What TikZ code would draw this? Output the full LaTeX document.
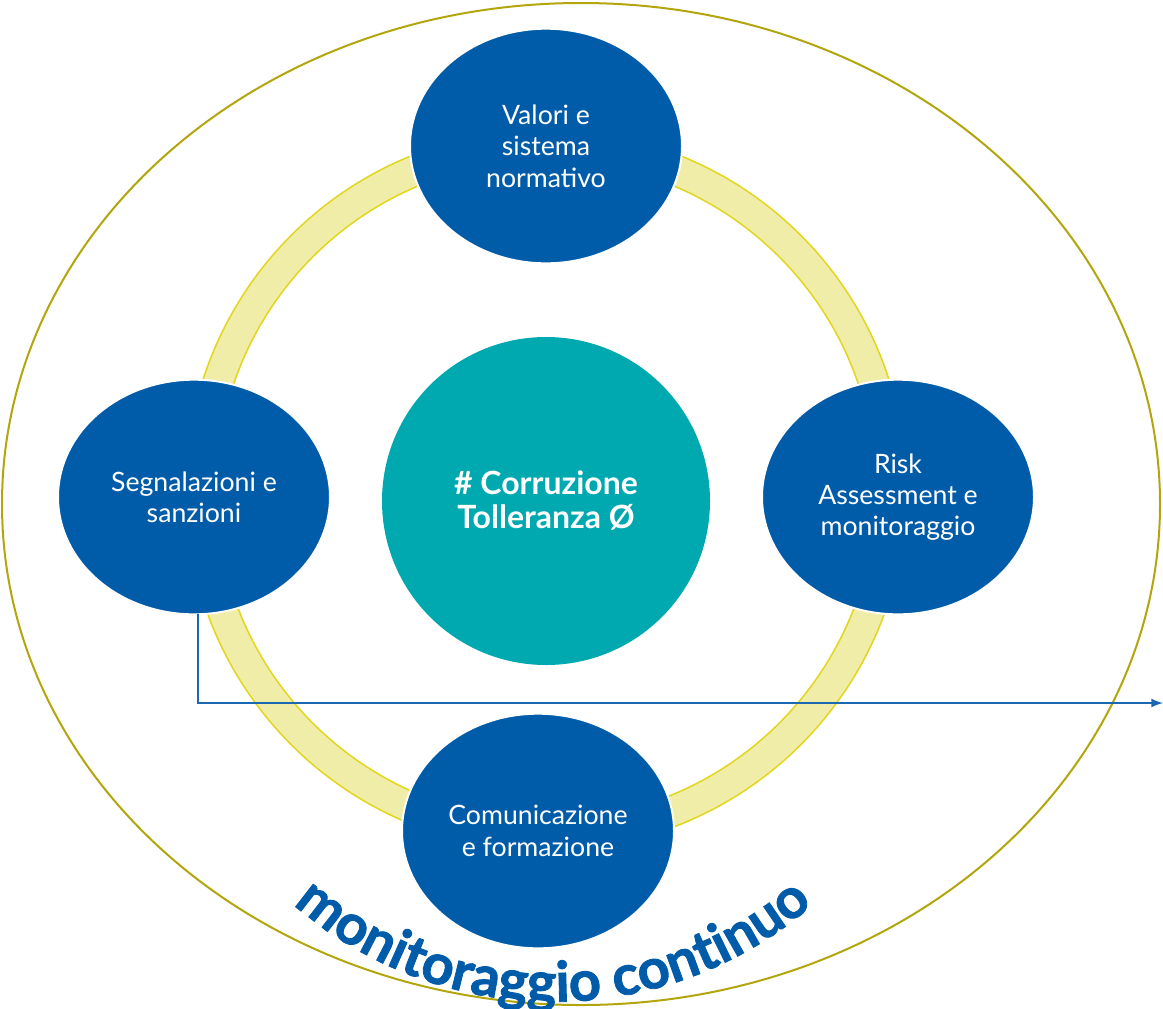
\documentclass[tikz,border=0pt]{standalone}
\usepackage{fontspec}
\setmainfont{Lato}
\newfontfamily\arcfamily{Lato}[BoldFeatures={FakeBold=1.5}]
\usepackage{tikz}
\usetikzlibrary{shapes,arrows,decorations.text}

\definecolor{nodeblue}{RGB}{0,92,169}
\definecolor{coreteal}{RGB}{0,169,176}
\definecolor{ringfill}{RGB}{240,237,168}
\definecolor{ringedge}{RGB}{226,214,30}
\definecolor{frameolive}{RGB}{178,166,12}
\definecolor{linkblue}{RGB}{28,104,178}

\newcommand{\arcfont}{\arcfamily\bfseries\fontsize{42}{42}\selectfont}

\begin{document}
\begin{tikzpicture}[x=0.75pt,y=0.75pt,yscale=-1,xscale=1,
    stage/.style={ellipse, fill=nodeblue, draw=white, line width=1.5pt, text=white, align=center,
        minimum width=204pt, minimum height=176pt, inner sep=0pt, outer sep=0pt,
        font=\fontsize{20}{23.5}\selectfont},
    core/.style={circle, fill=coreteal, text=white, align=center, minimum size=246pt,
        inner sep=0pt, outer sep=0pt, font=\bfseries\fontsize{24}{25.5}\selectfont}]
    \useasboundingbox (0,0) rectangle (1163,1008);

    %Outer frame
    \draw[frameolive, line width=1.5pt] (581,504) ellipse (579 and 501);
    %Ring
    \draw[ringedge, line width=24pt] (546,490) circle (345);
    \draw[ringfill, line width=21.5pt] (546,490) circle (345);

    % Nodes
    \node[core] (core) at (546,501) {\# Corruzione\\Tolleranza Ø};
    \node[stage] (valori) at (546,146) {Valori e\\sistema\\normativo};
    \node[stage] (risk) at (898,497) {Risk\\Assessment e\\monitoraggio};
    \node[stage] (comun) at (538,831) {Comunicazione\\e formazione};
    \node[stage] (segn) at (194,497) {Segnalazioni e\\sanzioni};

    % Connector
    \coordinate (exit) at (1163,703);
    \draw[linkblue, line width=2pt, -latex] (segn.-88) |- (exit);

    % Curved label
    \path[decorate, decoration={text along path, text align=center,
        text={|\arcfont\color{nodeblue}|monitoraggio continuo}}]
        (242,850) arc[start angle=142, end angle=38, radius=395];

\end{tikzpicture}
\end{document}
